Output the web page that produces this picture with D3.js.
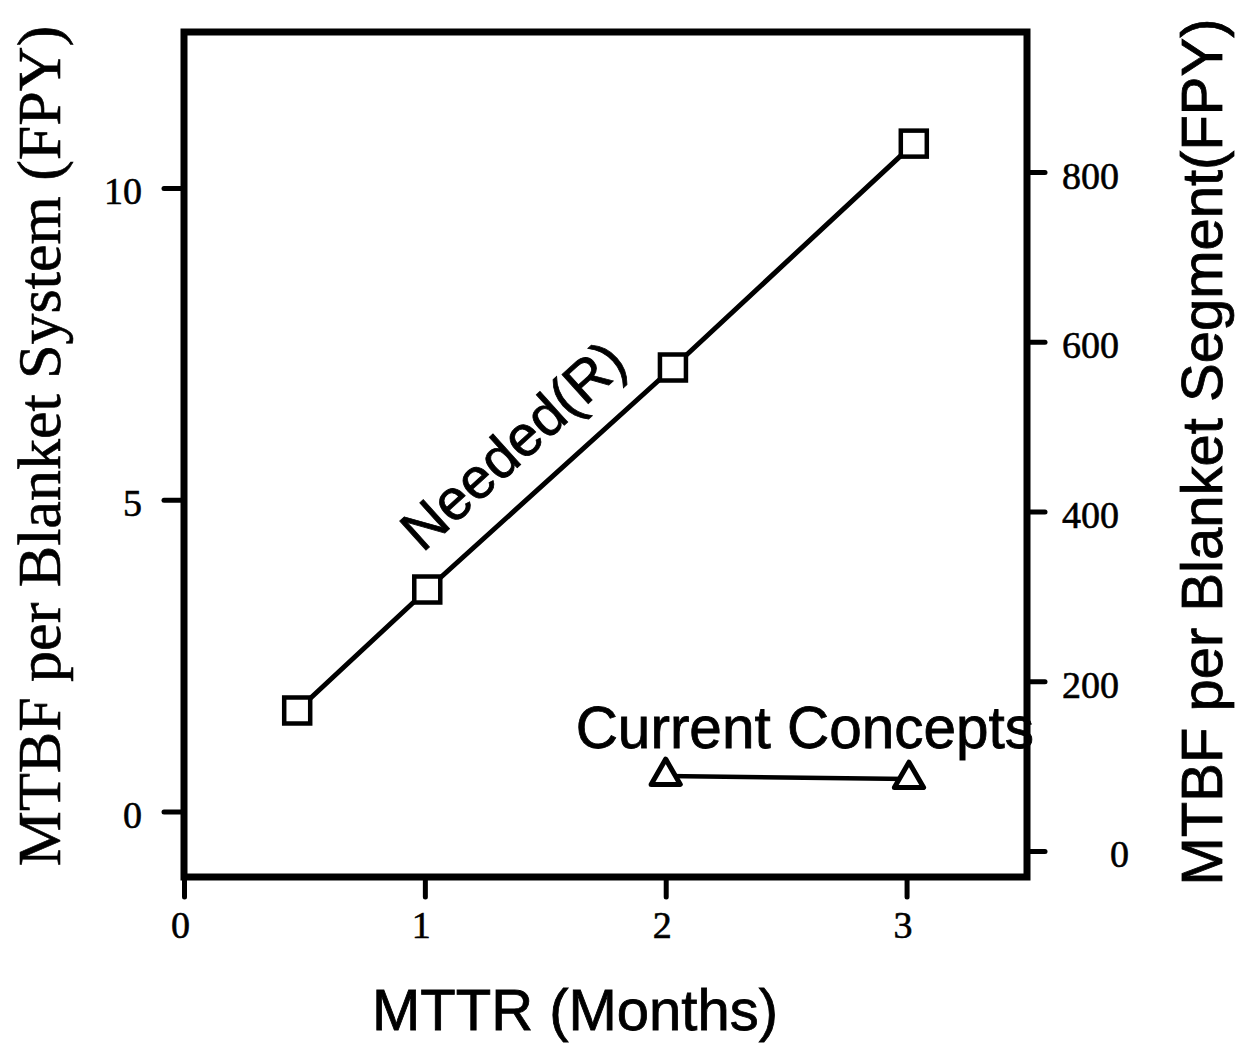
<!DOCTYPE html>
<html>
<head>
<meta charset="utf-8">
<script src="https://cdn.jsdelivr.net/npm/d3@7"></script>
<style>
  body { margin: 0; background: #fff; }
  svg { display: block; }
  .serif { font-family: "Liberation Serif", "Times New Roman", serif; }
  .sans { font-family: "Liberation Sans", Arial, sans-serif; }
</style>
</head>
<body>
<div id="chart"></div>
<script>
// data
var neededMTTR = [0.47, 1.01, 2.03, 3.03];
var neededMTBF = [1.62, 3.56, 7.12, 10.71];
var currentMTTR = [2.0, 3.01];
var currentMTBF = [0.57, 0.52];

var xTicks = [0, 1, 2, 3];
var leftTicks = [0, 5, 10];
var rightTicks = [0, 200, 400, 600, 800];

var W = 1247, H = 1048;
var frame = {left: 184, right: 1027, top: 32, bottom: 877};

var svg = d3.select("#chart").append("svg")
    .attr("width", W)
    .attr("height", H);

var x = d3.scaleLinear().domain([0, 3.5]).range([frame.left, frame.right]);
var yL = d3.scaleLinear().domain([-1.05, 12.5]).range([frame.bottom, frame.top]);
var yR = d3.scaleLinear().domain([-30.6, 965]).range([frame.bottom, frame.top]);

// axes (ticks only, outward)
var axisStyle = function(g, fontSize){
    g.attr("font-size", null).attr("font-family", null);
    g.select(".domain").remove();
    g.selectAll(".tick line").attr("stroke", "#000").attr("stroke-width", 5).attr("stroke-linecap", "round");
    g.selectAll(".tick text")
        .attr("class", "serif")
        .attr("fill", "#000")
        .attr("stroke", "#000")
        .attr("stroke-width", 0.6)
        .style("font-size", fontSize + "px");
};

svg.append("g")
    .attr("transform", "translate(0," + frame.bottom + ")")
    .call(d3.axisBottom(x).tickValues(xTicks).tickSize(20).tickPadding(14).tickFormat(d3.format("d")))
    .call(axisStyle, 38)
    .selectAll(".tick text").attr("dx", -4);

svg.append("g")
    .attr("transform", "translate(" + frame.left + ",0)")
    .call(d3.axisLeft(yL).tickValues(leftTicks).tickSize(20).tickPadding(22).tickFormat(d3.format("d")))
    .call(axisStyle, 38)
    .selectAll(".tick text").attr("dy", "0.42em");

svg.append("g")
    .attr("transform", "translate(" + frame.right + ",0)")
    .call(d3.axisRight(yR).tickValues(rightTicks).tickSize(18).tickPadding(20).tickFormat(d3.format("d")))
    .call(axisStyle, 38)
    .selectAll(".tick text")
        .attr("text-anchor", "end")
        .attr("x", function(d){ return d === 0 ? 102 : 92; })
        .attr("dy", "0.42em");

// frame
svg.append("rect")
    .attr("x", frame.left)
    .attr("y", frame.top)
    .attr("width", frame.right - frame.left)
    .attr("height", frame.bottom - frame.top)
    .attr("fill", "none")
    .attr("stroke", "#000")
    .attr("stroke-width", 7);

// series
var line = d3.line()
    .x(function(d){ return x(d[0]); })
    .y(function(d){ return d[1]; });

var needed = neededMTTR.map(function(v, i){ return [v, yL(neededMTBF[i])]; });
var current = currentMTTR.map(function(v, i){ return [v, yL(currentMTBF[i])]; });

svg.append("path")
    .attr("d", line(needed))
    .attr("fill", "none")
    .attr("stroke", "#000")
    .attr("stroke-width", 5);

svg.append("path")
    .attr("d", line(current))
    .attr("fill", "none")
    .attr("stroke", "#000")
    .attr("stroke-width", 4.5);

var sq = 26;
svg.selectAll(".sq").data(needed).enter().append("rect")
    .attr("class", "sq")
    .attr("x", function(d){ return x(d[0]) - sq / 2; })
    .attr("y", function(d){ return d[1] - sq / 2; })
    .attr("width", sq)
    .attr("height", sq)
    .attr("fill", "#fff")
    .attr("stroke", "#000")
    .attr("stroke-width", 4.5);

var tri = d3.symbol().type(d3.symbolTriangle).size(370);
svg.selectAll(".tri").data(current).enter().append("path")
    .attr("class", "tri")
    .attr("d", tri)
    .attr("transform", function(d){ return "translate(" + x(d[0]) + "," + d[1] + ")"; })
    .attr("fill", "#fff")
    .attr("stroke", "#000")
    .attr("stroke-width", 5)
    .attr("stroke-linejoin", "round");

// annotations
var p1 = needed[1], p2 = needed[2];
var angle = Math.atan2(p2[1] - p1[1], x(p2[0]) - x(p1[0])) * 180 / Math.PI;
svg.append("text")
    .attr("class", "sans")
    .attr("transform", "translate(" + x(0.99) + "," + yL(4.14) + ") rotate(" + angle + ")")
    .attr("stroke", "#000")
    .attr("stroke-width", 0.8)
    .style("font-size", "57px")
    .text("Needed(R)");

svg.append("text")
    .attr("class", "sans")
    .attr("x", x(1.626))
    .attr("y", yL(1.02))
    .attr("stroke", "#000")
    .attr("stroke-width", 0.8)
    .style("font-size", "58.5px")
    .text("Current Concepts");

// axis titles
svg.append("text")
    .attr("class", "serif")
    .attr("transform", "translate(60,446) rotate(-90)")
    .attr("text-anchor", "middle")
    .attr("stroke", "#000")
    .attr("stroke-width", 0.6)
    .style("font-size", "62px")
    .text("MTBF per Blanket System (FPY)");

svg.append("text")
    .attr("class", "sans")
    .attr("transform", "translate(1222,452) rotate(-90)")
    .attr("text-anchor", "middle")
    .attr("stroke", "#000")
    .attr("stroke-width", 0.8)
    .style("font-size", "58px")
    .text("MTBF per Blanket Segment(FPY)");

svg.append("text")
    .attr("class", "sans")
    .attr("x", 575)
    .attr("y", 1030)
    .attr("text-anchor", "middle")
    .attr("stroke", "#000")
    .attr("stroke-width", 0.8)
    .style("font-size", "58px")
    .text("MTTR (Months)");
</script>
</body>
</html>
